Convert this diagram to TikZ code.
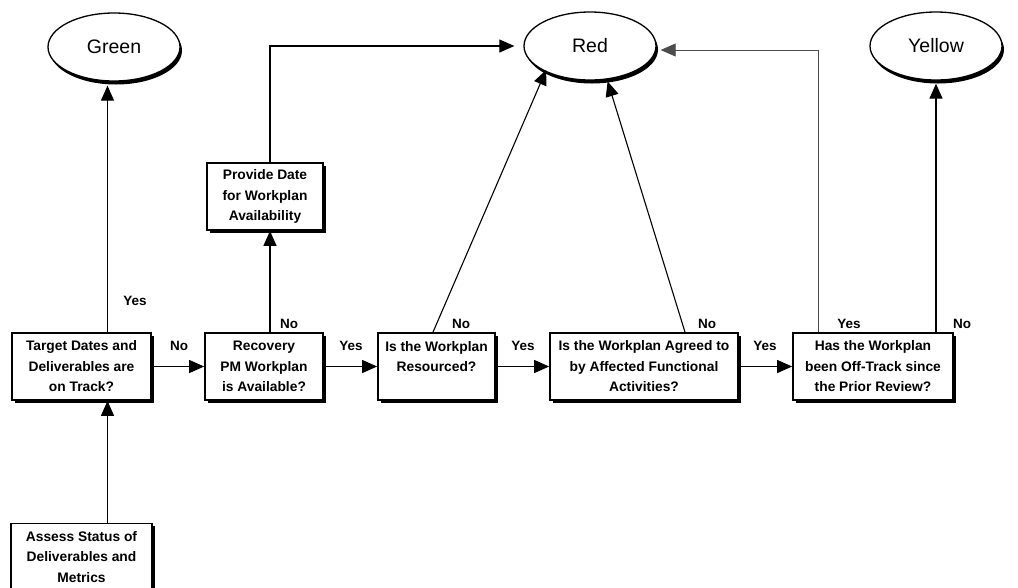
\documentclass[tikz,border=0pt]{standalone}
\usepackage{fontspec}
\setmainfont{Liberation Sans}
\usetikzlibrary{arrows.meta,shapes.geometric,shadows}

\begin{document}
\begin{tikzpicture}[x=1pt,y=-1pt,
    box/.style={draw,line width=1.7pt,fill=white,align=center,minimum height=67pt,inner sep=2pt,font=\bfseries\fontsize{13.8}{20.5}\selectfont,drop shadow={shadow xshift=2.8pt,shadow yshift=-2.8pt,fill=black,opacity=1}},
    status/.style={ellipse,draw,line width=1.3pt,fill=white,minimum width=132pt,minimum height=68pt,font=\fontsize{19.5}{22}\selectfont,drop shadow={shadow xshift=2pt,shadow yshift=-3.5pt,fill=black,opacity=1}},
    arr/.style={-{Triangle[length=15pt,width=13pt]},line width=1.1pt},
    lbl/.style={font=\bfseries\fontsize{13.5}{16}\selectfont,inner sep=0pt}
  ]
    \useasboundingbox (0,0) rectangle (1018,587);
    % outcomes
    \node[status] (green) at (114,47) {Green};
    \node[status] (red) at (590,46) {Red};
    \node[status] (yellow) at (936,46) {Yellow};
    % decision chain
    \node[box,minimum width=139pt] (track) at (81.5,366.5) {Target Dates and\\Deliverables are\\on Track?};
    \node[box,minimum width=118pt] (recov) at (264,366.5) {Recovery\\PM Workplan\\is Available?};
    \node[box,minimum width=116pt] (provide) at (265,196.5) {Provide Date\\for Workplan\\Availability};
    \node[box,minimum width=117pt] (resrc) at (436.5,366.5) {Is the Workplan\\Resourced?\\~};
    \node[box,minimum width=188pt] (agreed) at (644,366.5) {Is the Workplan Agreed to\\by Affected Functional\\Activities?};
    \node[box,minimum width=160pt] (offtrk) at (873,366.5) {Has the Workplan\\been Off-Track since\\the Prior Review?};
    \node[box,minimum width=141pt] (assess) at (81.5,557) {Assess Status of\\Deliverables and\\Metrics};
    % connectors
    \draw[arr] ([xshift=26pt]assess.north) -- ([xshift=26pt]track.south);
    \draw[arr,shorten >=4pt] ([xshift=26pt]track.north) -- ([xshift=26pt]track.north |- green.south);
    \draw[arr] (track) -- (recov);
    \draw[arr] ([xshift=6pt]recov.north) -- ([xshift=6pt]recov.north |- provide.south);
    \draw[arr,shorten >=9pt] ([xshift=5pt]provide.north) |- (red.west);
    \draw[arr] (recov) -- (resrc);
    \draw[arr,shorten >=-2pt] ([xshift=-3.5pt]resrc.north) -- (red.-150);
    \draw[arr] (resrc) -- (agreed);
    \draw[arr,shorten >=2pt] ([xshift=41pt]agreed.north) -- (red.-63);
    \draw[arr] (agreed) -- (offtrk);
    \draw[arr,black!70,line width=0.8pt,shorten >=4pt] ([xshift=-55pt]offtrk.north) |- ([yshift=-4pt]red.east);
    \draw[arr,shorten >=3pt] (yellow.south |- offtrk.north) -- (yellow.south);
    % branch labels
    \node[lbl] (yesgreen) at (135,301) {Yes};
    \node[lbl] (nordc) at (179,346) {No};
    \node[lbl] (noprov) at (289,324) {No};
    \node[lbl] (yesres) at (351,346) {Yes};
    \node[lbl] (nores) at (461,324) {No};
    \node[lbl] (yesagr) at (523,346) {Yes};
    \node[lbl] (noagr) at (707,324) {No};
    \node[lbl] (yesoff) at (765,346) {Yes};
    \node[lbl] (yesred) at (849,324) {Yes};
    \node[lbl] (noyel) at (962,324) {No};
\end{tikzpicture}
\end{document}
